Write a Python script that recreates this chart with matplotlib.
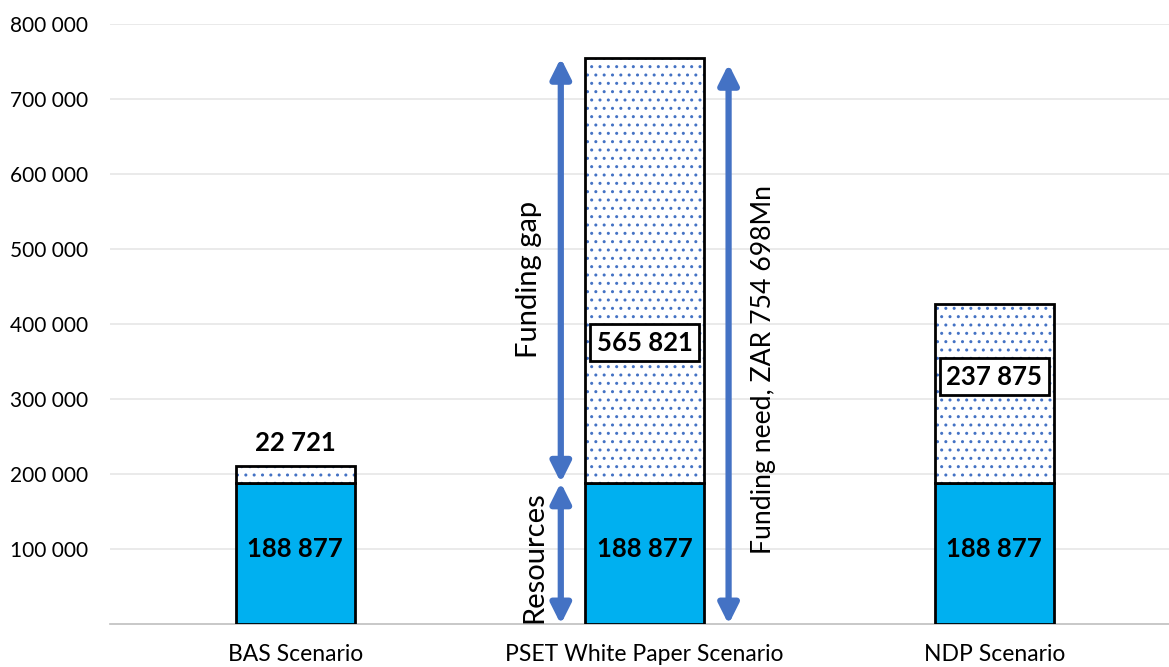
import matplotlib.pyplot as plt
import numpy as np

plt.rcParams['font.family'] = ['Lato', 'DejaVu Sans']

scenarios = ["BAS Scenario", "PSET White Paper Scenario", "NDP Scenario"]
resources = [188877, 188877, 188877]
gap = [22721, 565821, 237875]
total_need = 754698


def fmt(v):
    return f"{v:,}".replace(",", " ")


x = np.arange(len(scenarios))
fig, ax = plt.subplots(figsize=(11.69, 6.67), dpi=100)
fig.subplots_adjust(left=0.094, right=1.0, top=0.964, bottom=0.064)

w = 0.34
ax.bar(x, resources, w, color="#00B0F0", edgecolor="black", linewidth=2, zorder=3)
# dotted funding gap: blue hatch first, then a black outline on top
ax.bar(x, gap, w, bottom=resources, color="white", edgecolor="#4472C4",
       hatch="..", linewidth=0, zorder=3)
ax.bar(x, gap, w, bottom=resources, fill=False, edgecolor="black",
       linewidth=2, zorder=4)

for i in range(len(x)):
    ax.text(x[i], resources[i] * 0.53, fmt(resources[i]),
            ha="center", va="center", fontsize=18.5, fontweight="bold", zorder=5)

ax.text(x[0], resources[0] + gap[0] + 30000, fmt(gap[0]),
        ha="center", va="center", fontsize=18.5, fontweight="bold", zorder=5)
gap_pos = [375000, 330000]
for i, yy in zip([1, 2], gap_pos):
    ax.text(x[i], yy, fmt(gap[i]), ha="center", va="center",
            fontsize=18.5, fontweight="bold", zorder=6,
            bbox=dict(boxstyle="square,pad=0.25", fc="white", ec="black", lw=2))

arrow_c = "#4472C4"
akw = dict(arrowstyle="<|-|>,head_width=0.6,head_length=1.2", color=arrow_c,
           lw=4.5, shrinkA=0, shrinkB=0)
top = resources[1] + gap[1]
ax.annotate("", xy=(x[1] - 0.24, top), xytext=(x[1] - 0.24, resources[1]),
            arrowprops=akw, zorder=5)
ax.annotate("", xy=(x[1] - 0.24, resources[1]), xytext=(x[1] - 0.24, 0),
            arrowprops=akw, zorder=5)
ax.annotate("", xy=(x[1] + 0.24, total_need - 8000), xytext=(x[1] + 0.24, 0),
            arrowprops=akw, zorder=5)

ax.text(x[1] - 0.33, 460000, "Funding gap", rotation=90, ha="center",
        va="center", fontsize=21)
ax.text(x[1] - 0.315, 90000, "Resources", rotation=90, ha="center",
        va="center", fontsize=21)
ax.text(x[1] + 0.34, 340000, f"Funding need, ZAR {fmt(total_need)}Mn",
        rotation=90, ha="center", va="center", fontsize=19.2)

ax.set_ylim(0, 800000)
ax.set_xlim(-0.53, 2.5)
ticks = list(range(100000, 800001, 100000))
ax.set_yticks(ticks)
ax.set_yticklabels([fmt(v) for v in ticks], fontsize=15)
ax.set_xticks(x)
ax.set_xticklabels(scenarios, fontsize=16.5)
ax.tick_params(length=0)
ax.tick_params(axis="x", pad=14)
ax.tick_params(axis="y", pad=16)
ax.yaxis.grid(True, color="#E6E6E6", lw=1.2, zorder=0)
for s in ["top", "right", "left"]:
    ax.spines[s].set_visible(False)
ax.spines["bottom"].set_color("#BFBFBF")
ax.spines["bottom"].set_linewidth(1.2)

plt.savefig("out.png")
